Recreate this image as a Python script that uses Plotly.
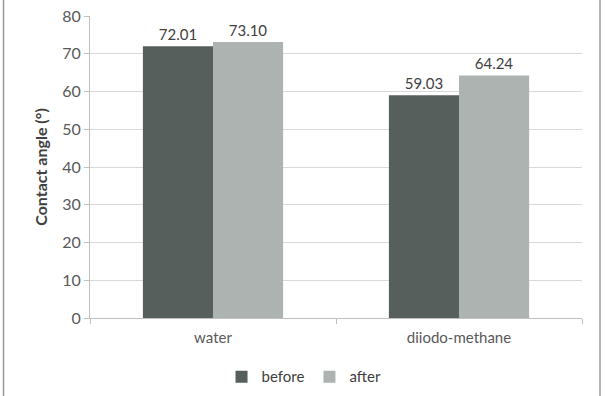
import plotly.graph_objects as go

categories = ["water", "diiodo-methane"]
before = [72.01, 59.03]
after = [73.10, 64.24]
before_labels = ["72.01", "59.03"]
after_labels = ["73.10", "64.24"]
y_ticks = [0, 10, 20, 30, 40, 50, 60, 70, 80]

FONT = "Lato"
fig = go.Figure()
fig.add_trace(go.Bar(name="before", x=categories, y=before, text=before_labels,
                     textposition="outside", marker=dict(color="#565f5c", line=dict(width=0)),
                     textfont=dict(size=15, color="#404040"), cliponaxis=False))
fig.add_trace(go.Bar(name="after", x=categories, y=after, text=after_labels,
                     textposition="outside", marker=dict(color="#adb3b0", line=dict(width=0)),
                     textfont=dict(size=15, color="#404040"), cliponaxis=False))

fig.update_layout(
    width=607, height=396,
    margin=dict(l=90, r=25, t=16, b=78, autoexpand=False),
    paper_bgcolor="white", plot_bgcolor="white",
    barmode="group", bargap=0.43, bargroupgap=0,
    font=dict(family=FONT, size=15, color="#595959"),
    showlegend=True,
    legend=dict(orientation="h", x=0.435, xanchor="center", y=-0.195, yanchor="middle",
                font=dict(size=15, color="#404040"), itemwidth=30,
                tracegroupgap=0),
    xaxis=dict(showgrid=False, showline=True, linecolor="#bfbfbf", linewidth=1,
               ticks="outside", tickson="boundaries", ticklen=5, tickcolor="#bfbfbf",
               tickfont=dict(size=15, color="#595959"), ticklabelstandoff=6,
               automargin=False, fixedrange=True),
    yaxis=dict(range=[0, 80], tickvals=y_ticks, showgrid=True, gridcolor="#d9d9d9",
               showline=True, linecolor="#bfbfbf", linewidth=1,
               ticks="outside", ticklen=5, tickcolor="#bfbfbf",
               tickfont=dict(size=16, color="#595959"),
               title=dict(text="<b>Contact angle (°)</b>", font=dict(size=16, color="#404040"),
                          standoff=10),
               automargin=False, zeroline=False),
    shapes=[
        dict(type="line", xref="paper", yref="paper", x0=-0.1758, x1=-0.1758, y0=-0.3, y1=1.1,
             line=dict(color="#9a9a9a", width=1.5)),
        dict(type="line", xref="paper", yref="paper", x0=1.0366, x1=1.0366, y0=-0.3, y1=1.1,
             line=dict(color="#9a9a9a", width=1.5)),
    ],
)
fig.write_html("out.html")
